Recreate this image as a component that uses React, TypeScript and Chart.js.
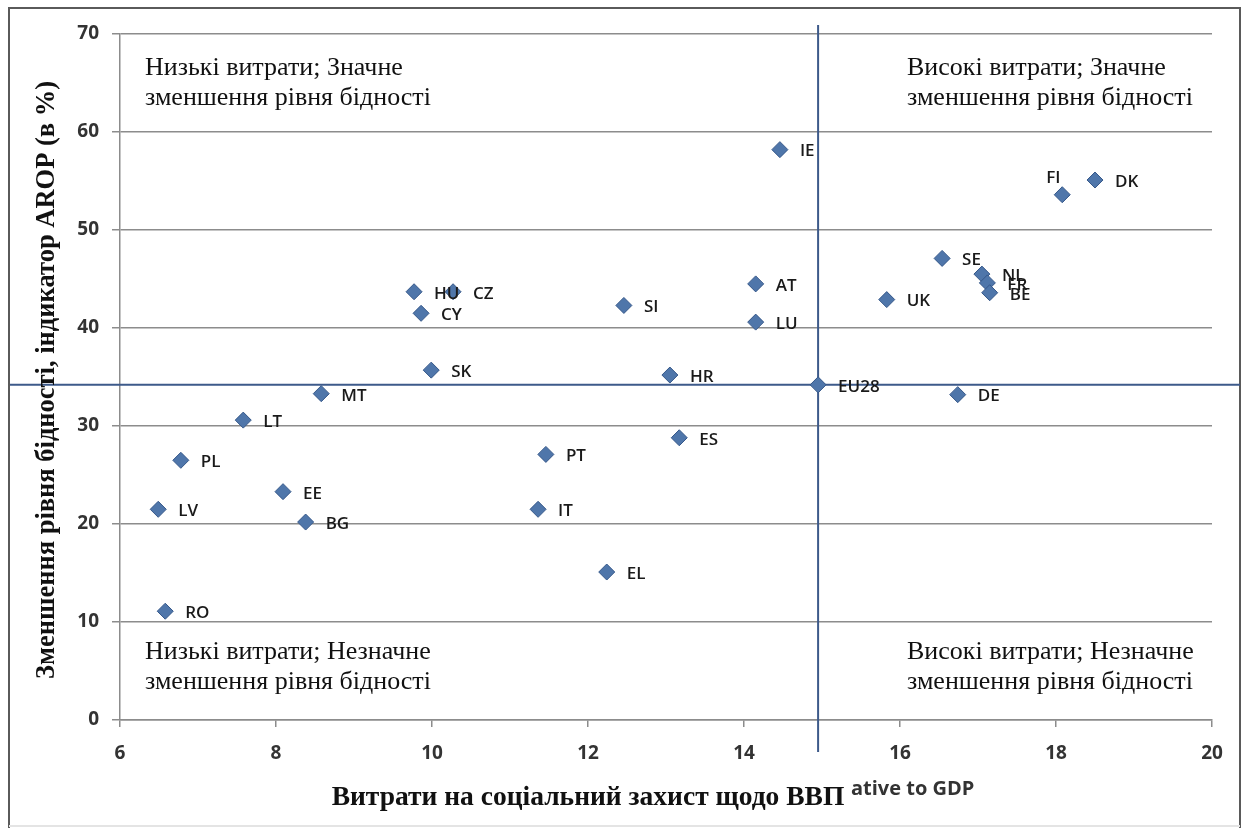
import React, { useEffect, useRef } from "react";
import { Chart, registerables } from "chart.js";

Chart.register(...registerables);

const countries = ["IE", "FI", "DK", "SE", "NL", "FR", "BE", "UK", "AT", "LU", "SI", "HR", "EU28", "DE", "ES", "PT", "IT", "EL", "HU", "CZ", "CY", "SK", "MT", "LT", "PL", "EE", "LV", "BG", "RO"];
const spending = [14.46, 18.08, 18.5, 16.54, 17.05, 17.12, 17.15, 15.83, 14.15, 14.15, 12.46, 13.05, 14.95, 16.74, 13.17, 11.46, 11.36, 12.24, 9.77, 10.27, 9.86, 9.99, 8.58, 7.58, 6.78, 8.09, 6.49, 8.38, 6.58];
const povertyReduction = [58.2, 53.6, 55.1, 47.1, 45.5, 44.6, 43.6, 42.9, 44.5, 40.6, 42.3, 35.2, 34.2, 33.2, 28.8, 27.1, 21.5, 15.1, 43.7, 43.7, 41.5, 35.7, 33.3, 30.6, 26.5, 23.3, 21.5, 20.2, 11.1];

const thresholdSpending = 14.95;
const thresholdReduction = 34.2;

const xTitle = "Витрати на соціальний захист щодо ВВП";
const xTitleRemnant = "ative to GDP";
const yTitle = "Зменшення рівня бідності, індикатор AROP (в %)";
const quadrantTopLeft = ["Низькі витрати; Значне", "зменшення рівня бідності"];
const quadrantTopRight = ["Високі витрати; Значне", "зменшення рівня бідності"];
const quadrantBottomLeft = ["Низькі витрати; Незначне", "зменшення рівня бідності"];
const quadrantBottomRight = ["Високі витрати; Незначне", "зменшення рівня бідності"];

const SERIF = "'Liberation Serif', 'Times New Roman', serif";
const SANS = "'Open Sans', 'DejaVu Sans', sans-serif";

const decorPlugin = {
  id: "decor",
  beforeDraw(chart: any) {
    const ctx = chart.ctx;
    ctx.save();
    ctx.fillStyle = "#ffffff";
    ctx.fillRect(0, 0, chart.width, chart.height);
    ctx.strokeStyle = "#5a5a5a";
    ctx.lineWidth = 2;
    ctx.beginPath();
    ctx.moveTo(9, 828);
    ctx.lineTo(9, 8);
    ctx.lineTo(1240, 8);
    ctx.lineTo(1240, 828);
    ctx.stroke();
    ctx.strokeStyle = "#e4e4e4";
    ctx.beginPath();
    ctx.moveTo(9, 826);
    ctx.lineTo(1240, 826);
    ctx.stroke();
    ctx.restore();
  },
  beforeDatasetsDraw(chart: any) {
    const ctx = chart.ctx;
    const xs = chart.scales.x;
    const ys = chart.scales.y;
    const ca = chart.chartArea;
    const px = xs.getPixelForValue(thresholdSpending);
    const py = ys.getPixelForValue(thresholdReduction);
    ctx.save();
    ctx.strokeStyle = "#3d5a8a";
    ctx.lineWidth = 2;
    ctx.beginPath();
    ctx.moveTo(px, ca.top - 9);
    ctx.lineTo(px, ca.bottom + 32);
    ctx.moveTo(10, py);
    ctx.lineTo(1240, py);
    ctx.stroke();
    ctx.restore();
  },
  afterDatasetsDraw(chart: any) {
    const ctx = chart.ctx;
    const meta = chart.getDatasetMeta(0);
    ctx.save();
    ctx.font = `600 17px ${SANS}`;
    ctx.fillStyle = "#1a1a1a";
    ctx.textBaseline = "middle";
    ctx.textAlign = "left";
    meta.data.forEach((pt: any, i: number) => {
      const name = countries[i];
      let dx = 20;
      let dy = 2;
      if (name === "FI") {
        dx = -16;
        dy = -17;
      }
      ctx.fillText(name, pt.x + dx, pt.y + dy);
    });
    ctx.restore();
  },
  afterDraw(chart: any) {
    const ctx = chart.ctx;
    ctx.save();
    ctx.fillStyle = "#111111";
    ctx.textAlign = "left";
    ctx.textBaseline = "alphabetic";
    ctx.font = `26px ${SERIF}`;
    const drawLines = (lines: string[], x: number, y: number) => {
      lines.forEach((l, i) => ctx.fillText(l, x, y + i * 30));
    };
    drawLines(quadrantTopLeft, 145, 75);
    drawLines(quadrantTopRight, 907, 75);
    drawLines(quadrantBottomLeft, 145, 659);
    drawLines(quadrantBottomRight, 907, 659);

    ctx.font = `bold 27.5px ${SERIF}`;
    ctx.textAlign = "center";
    ctx.textBaseline = "middle";
    ctx.fillText(xTitle, 588, 798);

    ctx.font = `bold 20px ${SANS}`;
    ctx.fillStyle = "#333333";
    ctx.textAlign = "left";
    ctx.fillText(xTitleRemnant, 851, 789);

    ctx.save();
    ctx.translate(47, 380);
    ctx.rotate(-Math.PI / 2);
    ctx.font = `bold 26.5px ${SERIF}`;
    ctx.fillStyle = "#111111";
    ctx.textAlign = "center";
    ctx.textBaseline = "middle";
    ctx.fillText(yTitle, 0, 0);
    ctx.restore();
    ctx.restore();
  },
};

export default function App() {
  const canvasRef = useRef<HTMLCanvasElement | null>(null);

  useEffect(() => {
    if (!canvasRef.current) return;
    const data = countries.map((_, i) => ({ x: spending[i], y: povertyReduction[i] }));
    const chart = new Chart(canvasRef.current, {
      type: "scatter",
      data: {
        datasets: [
          {
            label: "AROP",
            data,
            pointStyle: "rectRot",
            pointRadius: 8,
            pointHoverRadius: 8,
            backgroundColor: "#4f76aa",
            borderColor: "#36588a",
            borderWidth: 1,
          },
        ],
      },
      options: {
        responsive: false,
        animation: false,
        events: [],
        layout: { padding: { left: 0, top: 34, right: 33, bottom: 0 } },
        plugins: {
          legend: { display: false },
          tooltip: { enabled: false },
          title: { display: false },
        },
        scales: {
          x: {
            type: "linear",
            min: 6,
            max: 20,
            afterFit: (scale: any) => {
              scale.height = 108;
            },
            ticks: {
              stepSize: 2,
              padding: 15,
              color: "#333333",
              font: { family: SANS, size: 19, weight: "bold" },
            },
            grid: {
              drawOnChartArea: false,
              drawTicks: true,
              tickLength: 7,
              color: "#8c8c8c",
              lineWidth: 1.5,
            },
            border: { display: true, color: "#8c8c8c", width: 1.5 },
          },
          y: {
            type: "linear",
            min: 0,
            max: 70,
            afterFit: (scale: any) => {
              scale.width = 120;
            },
            ticks: {
              stepSize: 10,
              padding: 13,
              color: "#333333",
              font: { family: SANS, size: 19, weight: "bold" },
            },
            grid: {
              drawOnChartArea: true,
              drawTicks: true,
              tickLength: 8,
              color: "#8c8c8c",
              lineWidth: 1.5,
            },
            border: { display: true, color: "#8c8c8c", width: 1.5 },
          },
        },
      },
      plugins: [decorPlugin],
    });
    return () => chart.destroy();
  }, []);

  return (
    <div style={{ position: "fixed", left: 0, top: 0, width: 1245, height: 828, background: "#fff" }}>
      <canvas ref={canvasRef} width={1245} height={828} style={{ width: 1245, height: 828, display: "block" }} />
    </div>
  );
}
